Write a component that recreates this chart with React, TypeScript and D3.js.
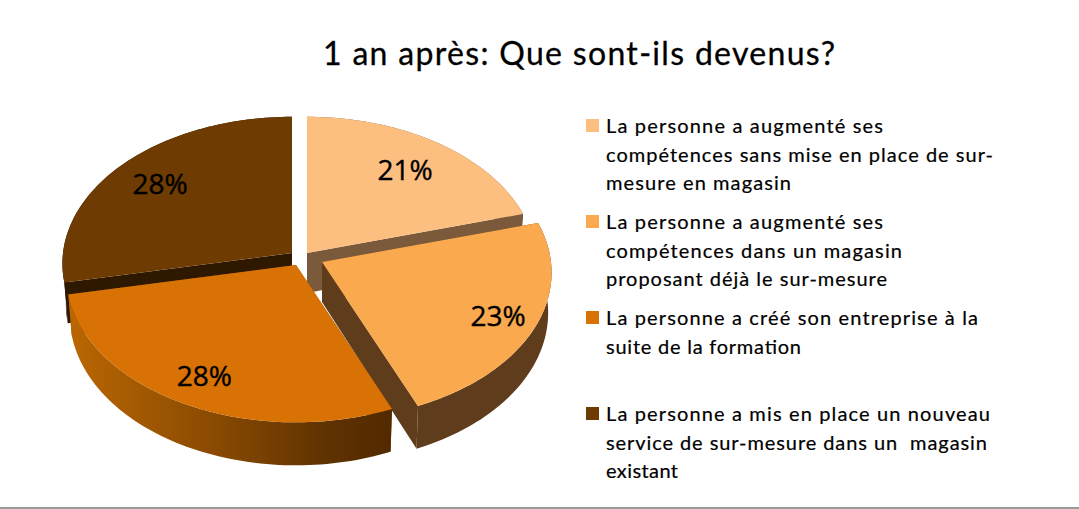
import * as d3 from "d3";
import React from "react";

const title = "1 an après: Que sont-ils devenus?";
// slice sizes as drawn, the printed labels are the rounded ones
const shares = [20.6, 23, 28.2, 28.2];
const shareLabels = ["21%", "23%", "28%", "28%"];
const legendLines = [
  ["La personne a augmenté ses", "compétences sans mise en place de sur-", "mesure en magasin"],
  ["La personne a augmenté ses", "compétences dans un magasin", "proposant déjà le sur-mesure"],
  ["La personne a créé son entreprise à la", "suite de la formation"],
  ["La personne a mis en place un nouveau", "service de sur-mesure dans un  magasin", "existant"],
];
const topColors = ["#fdbf7f", "#fba94f", "#d97205", "#6e3b02"];
const cutColors = ["#7a5a3a", "#5f3d1c", "#8a4a03", "#2e1900"];
const rimColors = ["#7a5a3a", "#5f3d1c", "url(#orangeWall)", "#2e1900"];

const width = 1079;
const height = 509;

// apex of each slice on screen (the exploded one sits apart)
const apexes = [
  [307, 253],
  [322, 262],
  [296, 265],
  [292, 253],
];
const labelRadius = [0.74, 0.83, 0.815, 0.77];
const legendY = [133, 229, 325, 421];
const legendWidths = [
  [277, 387, 185],
  [277, 296, 281],
  [372, 195],
  [384, 381, 72],
];
const lineGap = 28.7;

const RX = 229;
const RY = 146;
const PERSP = 0.072;

// unit disc to screen, with a little perspective so the front looks bigger
const project = (apex: number[], angle: number, r: number, drop = 0) => {
  const X = r * Math.sin(angle);
  const Y = -r * Math.cos(angle);
  const s = 1 / (1 - PERSP * Y);
  const depth = drop ? drop + 3 * Y : 0;
  const shrink = drop ? 0.985 : 1;
  return [apex[0] + RX * X * s * shrink, apex[1] + RY * Y * s + depth] as [number, number];
};

const arcAngles = (a0: number, a1: number) => {
  const n = Math.max(2, Math.ceil(Math.abs(a1 - a0) * 40));
  return d3.range(n + 1).map((i) => a0 + ((a1 - a0) * i) / n);
};

const line = d3.line();
const DROP = 40;

export default function App() {
  const slices = d3
    .pie<number>()
    .sort(null)
    .value((d) => d)(shares);

  // painted back to front
  const order = [3, 0, 1, 2];

  return (
    <svg
      width={width}
      height={height}
      viewBox={`0 0 ${width} ${height}`}
      style={{ position: "absolute", left: 0, top: 0, background: "#fff" }}
    >
      <defs>
        <linearGradient id="orangeWall" gradientUnits="userSpaceOnUse" x1="68" x2="392" y1="0" y2="0">
          <stop offset="0" stopColor="#bb6702" />
          <stop offset="0.45" stopColor="#8a4a02" />
          <stop offset="0.8" stopColor="#5f3201" />
          <stop offset="1" stopColor="#522a00" />
        </linearGradient>
      </defs>

      <text
        x={323}
        y={65}
        fontFamily="Lato"
        fontSize={32}
        fill="#000"
        stroke="#000"
        strokeWidth={0.3}
        textLength={512}
        lengthAdjust="spacing"
      >
        {title}
      </text>

      {order.map((i) => {
        const s = slices[i];
        const apex = apexes[i];
        const { startAngle: a0, endAngle: a1 } = s;
        const pts = arcAngles(a0, a1);
        const top = pts.map((a) => project(apex, a, 1));
        const bottom = pts.map((a) => project(apex, a, 1, DROP));
        const centre = project(apex, 0, 0);
        const centreLow: [number, number] = [centre[0], centre[1] + DROP];
        const wallFor = (a: number) => [centre, project(apex, a, 1), project(apex, a, 1, DROP), centreLow] as [number, number][];
        return (
          <g key={i}>
            <path d={line(wallFor(a0)) + "Z"} fill={cutColors[i]} />
            <path d={line(wallFor(a1)) + "Z"} fill={cutColors[i]} />
            <path d={line([...top, ...bottom.slice().reverse()]) + "Z"} fill={rimColors[i]} />
            <path d={line([centre, ...top]) + "Z"} fill={topColors[i]} />
          </g>
        );
      })}

      {slices.map((s, i) => {
        const [x, y] = project(apexes[i], (s.startAngle + s.endAngle) / 2, labelRadius[i]);
        return (
          <text
            key={i}
            x={x}
            y={y + 10}
            textAnchor="middle"
            fontFamily="Open Sans"
            fontSize={28}
            fill="#000"
            stroke="#000"
            strokeWidth={0.4}
          >
            {shareLabels[i]}
          </text>
        );
      })}

      {legendLines.map((lines, i) => (
        <g key={i}>
          <rect x={586} y={legendY[i] - 14} width={13} height={13} fill={topColors[i]} />
          {lines.map((t, j) => (
            <text
              key={j}
              x={606}
              y={legendY[i] + j * lineGap}
              fontFamily="Lato"
              fontSize={20}
              fill="#000"
              stroke="#000"
              strokeWidth={0.2}
              textLength={legendWidths[i][j]}
              lengthAdjust="spacing"
              style={{ whiteSpace: "pre" }}
            >
              {t}
            </text>
          ))}
        </g>
      ))}

      <rect x={0} y={507} width={width} height={2} fill="#999" />
    </svg>
  );
}
